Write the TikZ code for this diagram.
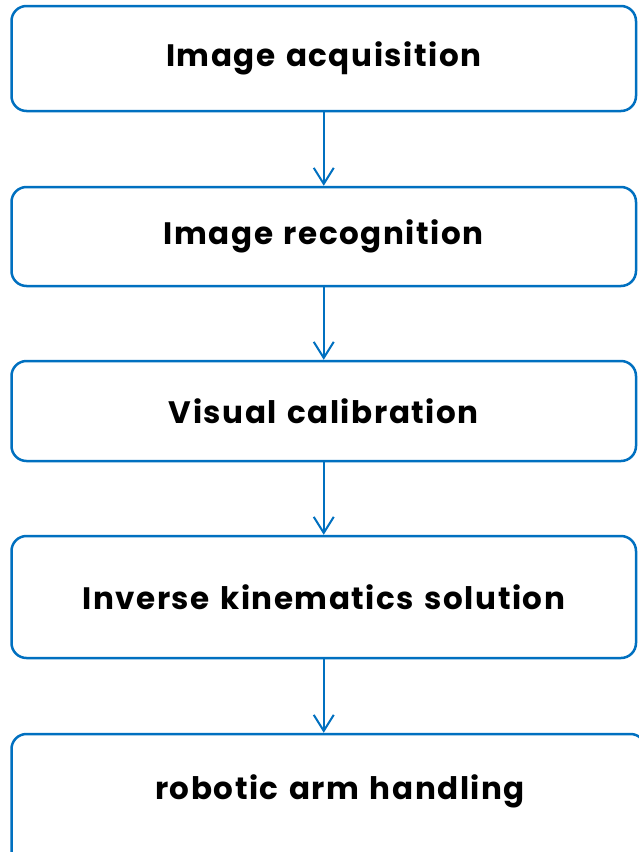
\documentclass[tikz,border=0pt]{standalone}
\usepackage{fontspec}
\setmainfont{Poppins}[LetterSpace=5,WordSpace=1.3]
\usetikzlibrary{arrows.meta}
\definecolor{boxblue}{HTML}{0070C0}
\tikzset{
  txtfont/.style={font=\fontsize{31}{34}\selectfont\bfseries},
  stepbox/.style={draw=boxblue, line width=2.5pt, rounded corners=15pt, rectangle, fill=white,
    txtfont, text=black, inner sep=0pt, align=center},
  flowarrow/.style={draw=boxblue, line width=2pt, -{Straight Barb[length=16pt,width=20pt,line width=2pt]}}
}
\begin{document}
\begin{tikzpicture}[x=1pt,y=-1pt]
\useasboundingbox (0,0) rectangle (639,852);
\clip (0,0) rectangle (639,852);
\fill[white] (0,0) rectangle (639,852);
\node[stepbox, minimum width=624.5pt, minimum height=105pt] (b1) at (323.75,58.5) {Image acquisition};
\node[stepbox, minimum width=624.5pt, minimum height=99pt] (b2) at (323.75,236.5) {Image recognition};
\node[stepbox, minimum width=624.5pt, minimum height=100pt] (b3) at (323.75,411) {Visual calibration};
\node[stepbox, minimum width=624.5pt, minimum height=122pt] (b4) at (323.75,597) {Inverse kinematics solution};
\node[stepbox, minimum width=634pt, minimum height=170pt] (b5) at (328.5,819) {};
\node[txtfont, inner sep=0pt, anchor=base] (t5) at (340,799) {robotic arm handling};
\draw[flowarrow] (b1) -- (b2);
\draw[flowarrow] (b2) -- (b3);
\draw[flowarrow] (b3) -- (b4);
\draw[flowarrow] (b4.south) -- (b4.south |- b5.north);
\end{tikzpicture}
\end{document}
